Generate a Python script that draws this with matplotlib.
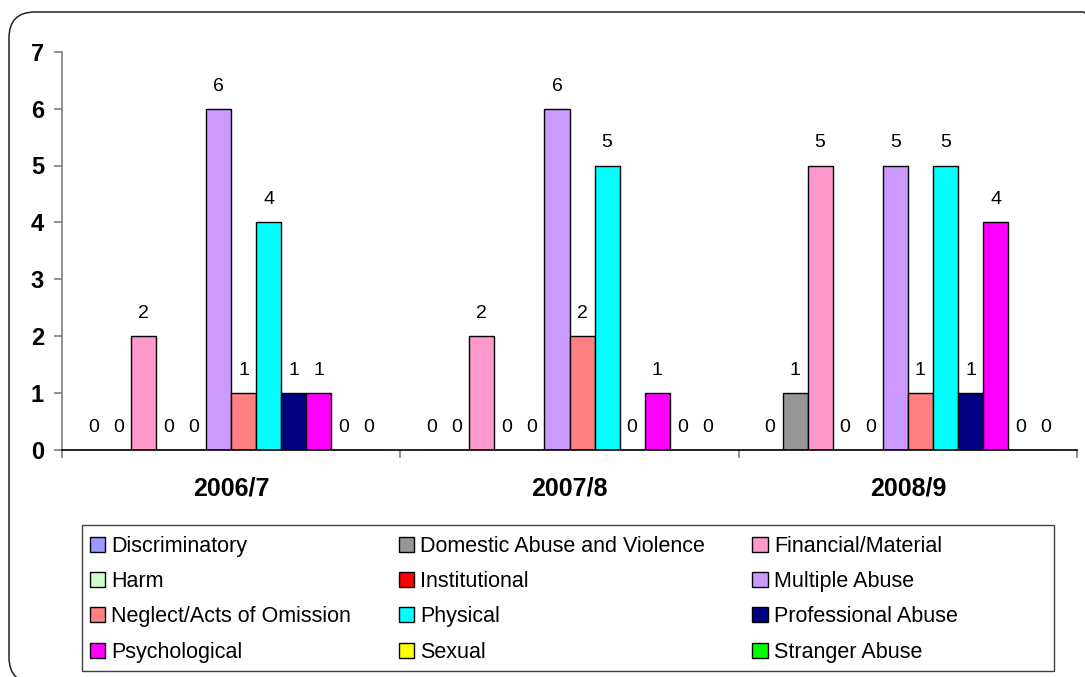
import matplotlib
matplotlib.use("Agg")
import matplotlib.pyplot as plt
import numpy as np
from matplotlib.patches import FancyBboxPatch, Rectangle
from matplotlib.transforms import IdentityTransform

plt.rcParams['font.family'] = ['Liberation Sans', 'DejaVu Sans']

years = ["2006/7", "2007/8", "2008/9"]
categories = [
    "Discriminatory", "Domestic Abuse and Violence", "Financial/Material",
    "Harm", "Institutional", "Multiple Abuse",
    "Neglect/Acts of Omission", "Physical", "Professional Abuse",
    "Psychological", "Sexual", "Stranger Abuse",
]
colors = [
    "#9999FF", "#969696", "#FF99CC",
    "#CCFFCC", "#FF0000", "#CC99FF",
    "#FF8080", "#00FFFF", "#000080",
    "#FF00FF", "#FFFF00", "#00FF00",
]
# counts per category, one entry per year
discriminatory = [0, 0, 0]
domestic = [0, 0, 1]
financial = [2, 2, 5]
harm = [0, 0, 0]
institutional = [0, 0, 0]
multiple = [6, 6, 5]
neglect = [1, 2, 1]
physical = [4, 5, 5]
professional = [1, 0, 1]
psychological = [1, 1, 4]
sexual = [0, 0, 0]
stranger = [0, 0, 0]
series = [discriminatory, domestic, financial, harm, institutional, multiple,
          neglect, physical, professional, psychological, sexual, stranger]
y_ticks = [0, 1, 2, 3, 4, 5, 6, 7]

W, H, DPI = 1085, 677, 100
fig = plt.figure(figsize=(W / DPI, H / DPI), dpi=DPI)
fig.patch.set_facecolor("white")
px = IdentityTransform()

# rounded outer frame of the chart area
frame = FancyBboxPatch((9, H - 683), 1100, 671,
                       boxstyle="round,pad=0,rounding_size=26",
                       transform=px, facecolor="none",
                       edgecolor="#222222", linewidth=1.1, clip_on=False)
fig.add_artist(frame)

ax = fig.add_axes([62 / W, (H - 450) / H, (1077 - 62) / W, (450 - 51.7) / H])

n = len(categories)
w = 1.0 / (n + 1.5)
x = np.arange(len(years))
containers = []
for i, (vals, col) in enumerate(zip(series, colors)):
    pos = x + (i - (n - 1) / 2) * w
    bc = ax.bar(pos, vals, width=w, color=col, edgecolor="black",
                linewidth=1.0, label=categories[i], zorder=2)
    containers.append(bc)
    for xp, v in zip(pos, vals):
        ax.annotate(str(v), (xp, v), xytext=(0, 13), textcoords="offset points",
                    ha="center", va="baseline", fontsize=14, color="black")

ax.set_xlim(-0.5, len(years) - 0.5)
ax.set_ylim(0, 7)
ax.set_yticks(y_ticks)
ax.set_yticklabels([str(t) for t in y_ticks], fontsize=17, fontweight="bold")
ax.set_xticks(x)
ax.set_xticklabels(years, fontsize=18, fontweight="bold")
ax.set_xticks(np.arange(-0.5, len(years), 1.0), minor=True)
ax.tick_params(axis="x", which="major", length=0, pad=19)
ax.tick_params(axis="x", which="minor", length=6, width=1.2, color="#808080",
               direction="out")
ax.tick_params(axis="y", length=6, width=1.2, color="#808080", pad=7,
               direction="out")
for s in ("top", "right"):
    ax.spines[s].set_visible(False)
ax.spines["left"].set_color("#808080")
ax.spines["left"].set_linewidth(1.2)
ax.spines["bottom"].set_color("black")
ax.spines["bottom"].set_linewidth(1.2)
ax.set_facecolor("none")

# legend box
fig.add_artist(Rectangle((82, H - 671), 1054 - 82, 671 - 525, transform=px,
                         facecolor="white", edgecolor="#404040",
                         linewidth=1.0, zorder=1))

# legend laid out row-wise in three columns
order = [0, 3, 6, 9, 1, 4, 7, 10, 2, 5, 8, 11]
handles = [containers[k] for k in order]
labels = [categories[k] for k in order]
leg = fig.legend(handles, labels, ncol=3, loc="upper left",
                 bbox_to_anchor=(82 / W, (H - 528) / H),
                 fontsize=15.5, frameon=False,
                 handlelength=0.7, handleheight=0.7, handletextpad=0.3,
                 labelspacing=0.66, borderpad=0.37, borderaxespad=0,
                 columnspacing=2.2)
leg.set_zorder(2)

fig.savefig("out.png", dpi=DPI, facecolor="white")
